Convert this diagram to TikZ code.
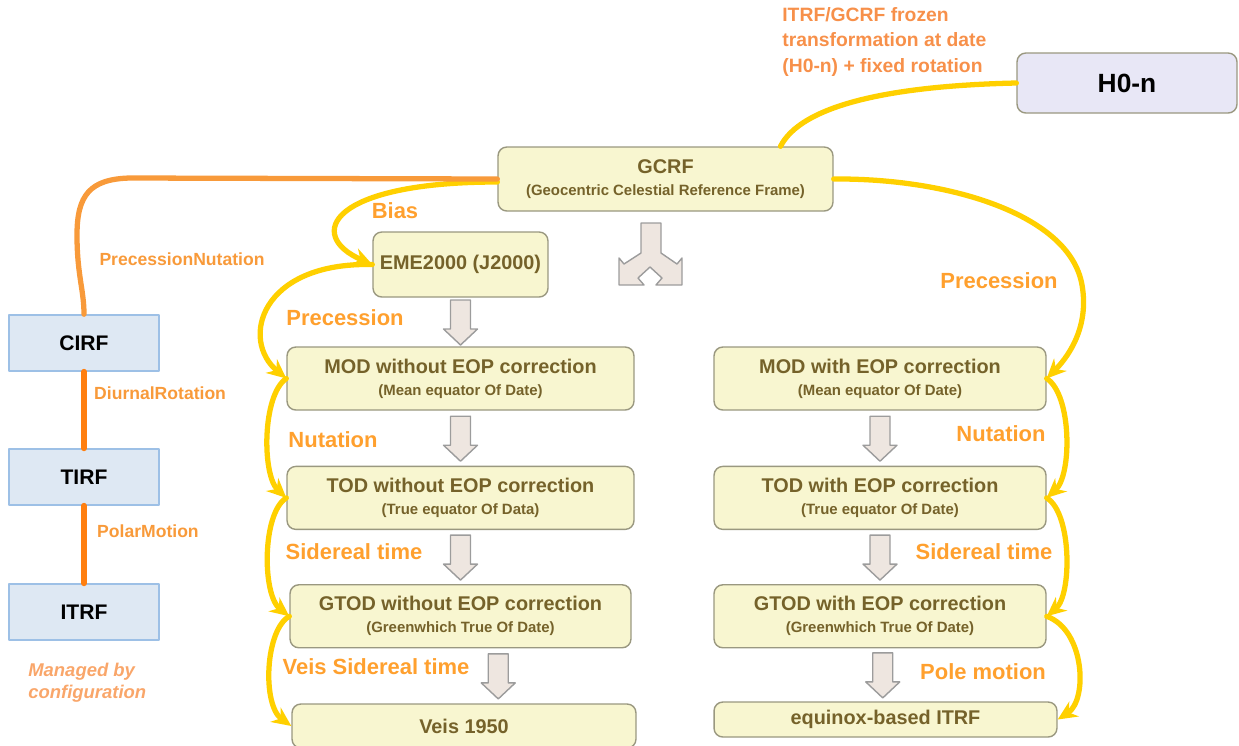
\documentclass[tikz,border=0pt]{standalone}
\usepackage{fontspec}
\setmainfont{Liberation Sans}
\usetikzlibrary{arrows.meta,calc,positioning}
\definecolor{boxfill}{HTML}{F8F6D0}
\definecolor{boxline}{HTML}{9A9880}
\definecolor{boxtext}{HTML}{75622A}
\definecolor{lavender}{HTML}{E8E7F6}
\definecolor{cirffill}{HTML}{DEE8F3}
\definecolor{cirfline}{HTML}{9DC0E6}
\definecolor{gold}{HTML}{FFD000}
\definecolor{tangerine}{HTML}{FF7F10}
\definecolor{pumpkin}{HTML}{F89A3A}
\definecolor{labelorange}{HTML}{FFA02E}
\definecolor{salmon}{HTML}{F7904A}
\definecolor{peach}{HTML}{F9A66A}
\definecolor{arrowfill}{HTML}{EEE6E0}
\definecolor{arrowline}{HTML}{9C9C9C}
\newcommand{\subtitle}[1]{{\fontsize{8.5}{10}\selectfont #1}}
\tikzset{
  >=Stealth,
  frame/.style={draw=boxline,fill=boxfill,rounded corners=5pt,line width=0.8pt,
                align=center,text=boxtext,inner sep=2pt,
                font=\bfseries\fontsize{11.3}{12.5}\selectfont},
  hzero/.style={draw=boxline,fill=lavender,rounded corners=5pt,line width=0.8pt,
                minimum width=4.4cm,minimum height=1.2cm,
                font=\bfseries\fontsize{15}{17}\selectfont},
  bluebox/.style={draw=cirfline,fill=cirffill,line width=0.9pt,minimum width=3cm,
                  minimum height=1.12cm,font=\bfseries\fontsize{12}{14}\selectfont},
  link/.style={draw=gold,line width=3pt,-{Stealth[length=11pt,width=10pt]}},
  pnline/.style={draw=pumpkin,line width=3pt},
  rotline/.style={draw=tangerine,line width=3.4pt},
  lbl/.style={text=labelorange,font=\bfseries\fontsize{12.5}{14}\selectfont},
  smalllbl/.style={text=pumpkin,font=\bfseries\fontsize{10}{12}\selectfont},
  blockarrow/.style={draw=arrowline,fill=arrowfill,line width=0.8pt},
  downarrow/.pic={\draw[blockarrow] (-10,-22) -- (10,-22) -- (10,7) -- (17,7)
                  -- (0,23) -- (-17,7) -- (-10,7) -- cycle;}
}

\begin{document}
\begin{tikzpicture}[x=0.02cm,y=-0.02cm,line cap=round,line join=round]
  \useasboundingbox (0,0) rectangle (1239,745);

  % Frames
  \node[hzero] (h0n) at (1127,83) {H0-n};
  \node[frame,minimum width=6.7cm,minimum height=1.28cm] (gcrf) at (665.5,179)
    {GCRF\\\subtitle{(Geocentric Celestial Reference Frame)}};
  \node[frame,minimum width=3.5cm,minimum height=1.3cm] (eme) at (460.5,264.5)
    {EME2000 (J2000)};

  % Without EOP correction
  \node[frame,minimum width=6.94cm,minimum height=1.26cm] (mod0) at (460.5,378.5)
    {MOD without EOP correction\\\subtitle{(Mean equator Of Date)}};
  \node[frame,minimum width=6.94cm,minimum height=1.26cm,below=1.1cm of mod0] (tod0)
    {TOD without EOP correction\\\subtitle{(True equator Of Data)}};
  \node[frame,minimum width=6.82cm,minimum height=1.26cm,below=1.08cm of tod0] (gtod0)
    {GTOD without EOP correction\\\subtitle{(Greenwhich True Of Date)}};
  \node[frame,minimum width=6.88cm,minimum height=0.88cm] (veis) at (464,726)
    {Veis 1950};

  % With EOP correction
  \node[frame,minimum width=6.64cm,minimum height=1.26cm] (mod1) at (880,378.5)
    {MOD with EOP correction\\\subtitle{(Mean equator Of Date)}};
  \node[frame,minimum width=6.64cm,minimum height=1.26cm,below=1.1cm of mod1] (tod1)
    {TOD with EOP correction\\\subtitle{(True equator Of Date)}};
  \node[frame,minimum width=6.64cm,minimum height=1.26cm,below=1.08cm of tod1] (gtod1)
    {GTOD with EOP correction\\\subtitle{(Greenwhich True Of Date)}};
  \node[frame,minimum width=6.86cm,minimum height=0.7cm] (itrf1) at (885.5,719.5)
    {equinox-based ITRF};

  % CIO based frames
  \node[bluebox] (cirf) at (84,343) {CIRF};
  \node[bluebox] (tirf) at (84,477) {TIRF};
  \node[bluebox] (itrf0) at (84,612) {ITRF};

  % Block arrows
  \pic at ($(eme.south)!0.5!(mod0.north)$) {downarrow};
  \pic at ($(mod0.south)!0.5!(tod0.north)$) {downarrow};
  \pic at ($(tod0.south)!0.5!(gtod0.north)$) {downarrow};
  \pic at ($($(gtod0.south)!0.5!(veis.north)$)+(36,0)$) {downarrow};
  \pic at ($(mod1.south)!0.5!(tod1.north)$) {downarrow};
  \pic at ($(tod1.south)!0.5!(gtod1.north)$) {downarrow};
  \pic at ($(gtod1.south)!0.5!(itrf1.north)$) {downarrow};
  \draw[blockarrow] (641,223) -- (661,223) -- (661,253) -- (677,264) -- (682,258)
    -- (682,285) -- (656,285) -- (662,278) -- (650,267) -- (638,278) -- (644,285)
    -- (619,285) -- (619,258) -- (624,264) -- (641,253) -- cycle;

  % Yellow links
  \draw[link,-] ($(gcrf.north)+(115,0)$) .. controls (800,108) and (880,86) .. (h0n.west);
  \draw[link] (gcrf.east) .. controls (950,178) and (1070,215) .. (1082,285)
    .. controls (1090,330) and (1065,360) .. (mod1.east);
  \draw[link] ($(gcrf.west)+(0,3)$) .. controls (330,182) and (305,235) .. (eme.west);
  \draw[link] (eme.west) .. controls (260,262) and (240,340) .. (mod0.west);
  \draw[link] (mod0.west) .. controls (262,395) and (262,475) .. (tod0.west);
  \draw[link] (tod0.west) .. controls (262,513) and (262,595) .. (gtod0.west);
  \draw[link] (gtod0.west) .. controls (265,630) and (262,705) .. (veis.west);
  \draw[link] (mod1.east) .. controls (1072,395) and (1072,475) .. (tod1.east);
  \draw[link] (tod1.east) .. controls (1072,513) and (1072,595) .. (gtod1.east);
  \draw[link] (gtod1.east) .. controls (1085,630) and (1088,700) .. (itrf1.east);

  % Orange links
  \draw[pnline] (gcrf.west) -- (130,178) .. controls (90,179) and (77,195) .. (77,235)
    .. controls (77,275) and (84,290) .. (cirf.north);
  \draw[rotline] (cirf) -- (tirf);
  \draw[rotline] (tirf) -- (itrf0);

  % Labels
  \node[lbl] (bias) at (395,211) {Bias};
  \node[lbl] (prec0) at (345,318) {Precession};
  \node[lbl] (nut0) at (333,440) {Nutation};
  \node[lbl] (sid0) at (354,552) {Sidereal time};
  \node[lbl] (veist) at (376,667) {Veis Sidereal time};
  \node[lbl] (prec1) at (999,281) {Precession};
  \node[lbl] (nut1) at (1001,434) {Nutation};
  \node[lbl] (sid1) at (984,552) {Sidereal time};
  \node[lbl] (pole) at (983,672) {Pole motion};
  \node[smalllbl] (pnlbl) at (182,259) {PrecessionNutation};
  \node[smalllbl,anchor=west] (drlbl) at (88,393) {DiurnalRotation};
  \node[smalllbl,anchor=west] (pmlbl) at (91,531) {PolarMotion};
  \node[text=peach,align=left,anchor=west,inner sep=0pt,
        font=\bfseries\itshape\fontsize{10.5}{12.5}\selectfont] (managed) at (28,683)
    {Managed by\\configuration};
  \node[text=salmon,align=left,anchor=north west,inner sep=0pt,
        font=\bfseries\fontsize{11}{14.5}\selectfont] (frozen) at (782,7)
    {ITRF/GCRF frozen\\transformation at date\\(H0-n) + fixed rotation};
\end{tikzpicture}
\end{document}
